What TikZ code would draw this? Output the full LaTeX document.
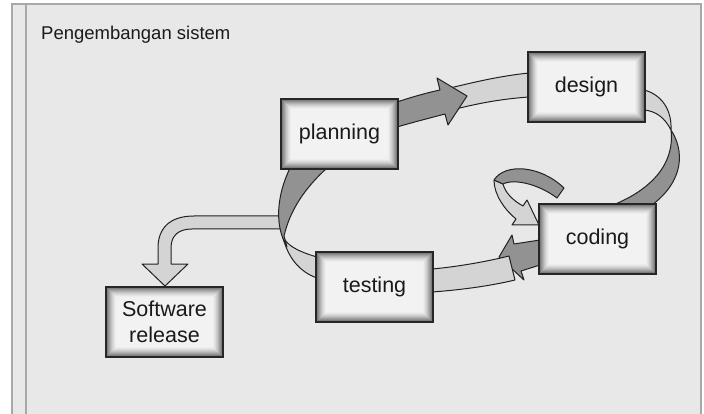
\documentclass[tikz,border=0pt]{standalone}
\usepackage{fontspec}
\setmainfont{Liberation Sans}
\definecolor{bg}{HTML}{E8E8E8}
\definecolor{frame}{HTML}{A8A8A8}
\definecolor{boxline}{HTML}{262626}
\definecolor{txt}{HTML}{1A1A1A}
\definecolor{ribdark}{HTML}{929292}
\definecolor{riblight}{HTML}{D4D4D4}
\definecolor{ribline}{HTML}{222222}
\begin{document}
\begin{tikzpicture}[x=1pt,y=-1pt,
  box/.style={draw=boxline,line width=2pt,minimum width=117pt,minimum height=70pt,
    inner sep=0pt,fill=white,text=txt,align=center,
    font=\fontsize{21.5}{26}\selectfont,
    path picture={
      \foreach \i in {0,...,10}{
        \pgfmathtruncatemacro\c{55*(1-\i/11)^1.6+4}
        \fill[black!\c] ([xshift=\i pt,yshift=\i pt]path picture bounding box.south west)
          rectangle ([xshift=-\i pt,yshift=-\i pt]path picture bounding box.north east);
      }}},
  darkrib/.style={fill=ribdark,draw=ribline,line width=1pt,line join=round},
  lightrib/.style={fill=riblight,draw=ribline,line width=1pt,line join=round}]
\useasboundingbox (0,0) rectangle (704,414);
\fill[white] (0,0) rectangle (704,414);
\fill[bg] (12,4) rectangle (701,414);
\draw[frame,line width=1.2pt] (12,414) -- (12,4) -- (701,4) -- (701,414);
\draw[frame,line width=1.2pt] (26,4) -- (26,414);

\node[anchor=base west,text=txt,inner sep=0pt,font=\fontsize{18.5}{21}\selectfont] (title) at (41,40) {Pengembangan sistem};

% release arrow
\draw[lightrib] (284,216) -- (194,216) .. controls (170,216) and (158,228) .. (158,248)
  -- (158,264) -- (142,264) -- (165,286) -- (188,264) -- (171,264) -- (171,248)
  .. controls (171,236) and (178,229) .. (192,229) -- (284,229) -- cycle;

% planning -> design
\draw[lightrib] (450,88) .. controls (475,82) and (500,76) .. (529,73) -- (529,97)
  .. controls (500,99) and (475,104) .. (452,110) -- cycle;
\draw[darkrib] (397,102) .. controls (412,97) and (426,93) .. (440,90) -- (437,78) -- (467,96)
  -- (448,125) -- (445,114) .. controls (430,118) and (414,122) .. (397,127) -- cycle;

% design -> coding
\draw[lightrib] (644,90) .. controls (660,94) and (672,108) .. (671,130)
  .. controls (665,118) and (656,111) .. (644,110) -- cycle;
\draw[darkrib] (671,130) .. controls (684,150) and (685,180) .. (652,205) -- (613,205)
  .. controls (650,190) and (675,165) .. (671,130) -- cycle;

% coding self loop
\draw[lightrib] (494,180) .. controls (494,195) and (505,210) .. (516,219) -- (512,225)
  -- (539,225) -- (527,200) -- (523,206) .. controls (512,200) and (505,192) .. (503,184) -- cycle;
\draw[darkrib] (564,188) .. controls (540,165) and (505,163) .. (494,180) -- (503,184)
  .. controls (515,178) and (540,185) .. (557,198) -- cycle;

% coding -> testing
\draw[darkrib] (540,240) -- (514,244) -- (512,235) -- (499,257) -- (524,280) -- (521,271) -- (540,265) -- cycle;
\draw[lightrib] (432,269) .. controls (455,267) and (485,262) .. (509,256) -- (515,280)
  .. controls (490,286) and (460,290) .. (432,292) -- cycle;

% testing -> planning
\draw[lightrib] (282,233) .. controls (287,258) and (300,272) .. (317,278) -- (317,257)
  .. controls (300,252) and (290,247) .. (285,240) -- cycle;
\draw[darkrib] (290,168) .. controls (277,195) and (274,225) .. (287,247) -- (284,236)
  .. controls (290,210) and (305,188) .. (327,168) -- cycle;

% boxes
\node[box] (planning) at (339.5,134) {planning};
\node[box] (design) at (586.5,87) {design};
\node[box] (coding) at (597.5,239) {coding};
\node[box] (testing) at (374.5,286.5) {testing};
\node[box] (release) at (164.5,322) {Software\\release};
\end{tikzpicture}
\end{document}
